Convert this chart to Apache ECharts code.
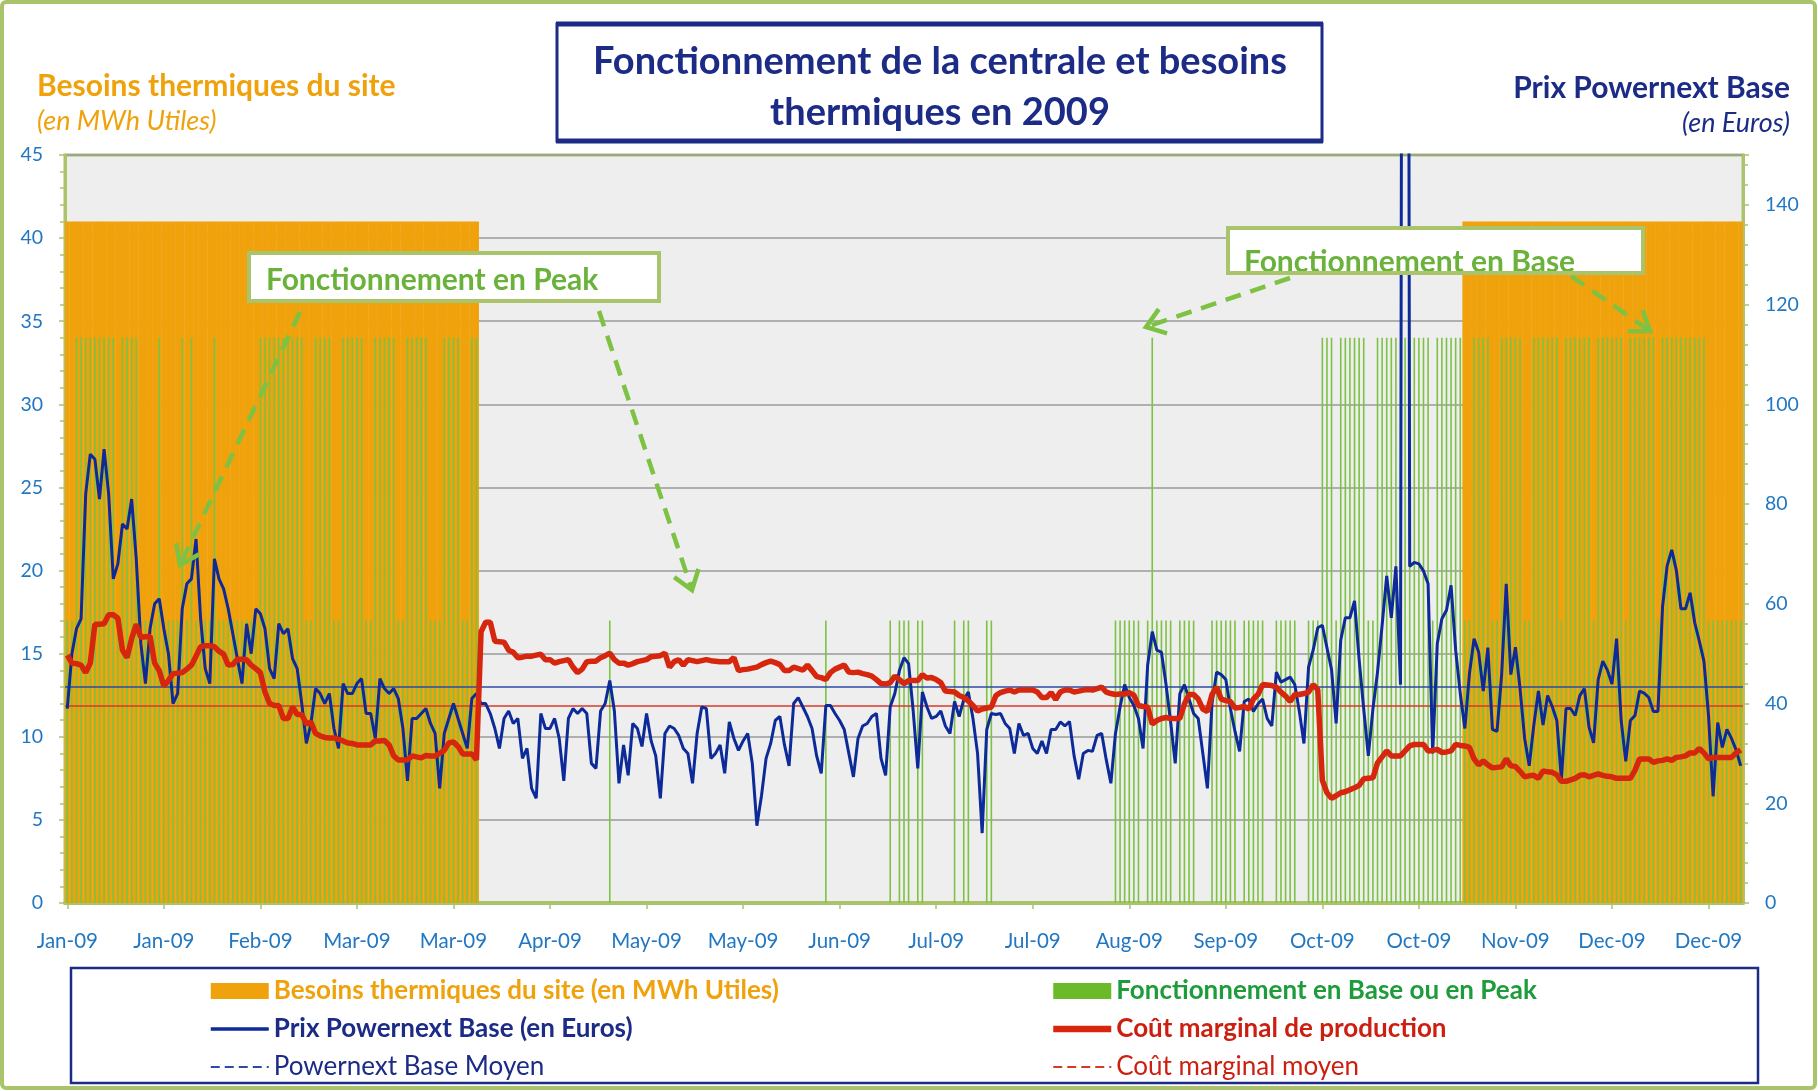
<!DOCTYPE html>
<html>
<head>
<meta charset="UTF-8">
<title>Fonctionnement de la centrale 2009</title>
<script src="https://cdn.jsdelivr.net/npm/echarts@6/dist/echarts.min.js"></script>
<style>
  html, body { margin: 0; padding: 0; background: #fff; }
  #main { width: 1818px; height: 1091px; }
</style>
</head>
<body>
<div id="main"></div>
<script type="text/javascript">
// x-axis tick labels, one every 21 days
var tickLabels = ['Jan-09','Jan-09','Feb-09','Mar-09','Mar-09','Apr-09','May-09','May-09','Jun-09',
  'Jul-09','Jul-09','Aug-09','Sep-09','Oct-09','Oct-09','Nov-09','Dec-09','Dec-09'];

// Besoins thermiques du site (MWh utiles), one value per day
var besoins = [
  41,41,41,41,41,41,41,41,41,41, 41,41,41,41,41,41,41,41,41,41,
  41,41,41,41,41,41,41,41,41,41, 41,41,41,41,41,41,41,41,41,41,
  41,41,41,41,41,41,41,41,41,41, 41,41,41,41,41,41,41,41,41,41,
  41,41,41,41,41,41,41,41,41,41, 41,41,41,41,41,41,41,41,41,41,
  41,41,41,41,41,41,41,41,41,41,
  0,0,0,0,0,0,0,0,0,0, 0,0,0,0,0,0,0,0,0,0, 0,0,0,0,0,0,0,0,0,0,
  0,0,0,0,0,0,0,0,0,0, 0,0,0,0,0,0,0,0,0,0, 0,0,0,0,0,0,0,0,0,0,
  0,0,0,0,0,0,0,0,0,0, 0,0,0,0,0,0,0,0,0,0, 0,0,0,0,0,0,0,0,0,0,
  0,0,0,0,0,0,0,0,0,0, 0,0,0,0,0,0,0,0,0,0, 0,0,0,0,0,0,0,0,0,0,
  0,0,0,0,0,0,0,0,0,0, 0,0,0,0,0,0,0,0,0,0, 0,0,0,0,0,0,0,0,0,0,
  0,0,0,0,0,0,0,0,0,0, 0,0,0,0,0,0,0,0,0,0, 0,0,0,0,0,0,0,0,0,0,
  0,0,0,0,0,0,0,0,0,0, 0,0,0,0,0,0,0,0,0,0, 0,0,0,0,0,0,0,0,0,0,
  0,0,0,0,41,41,41,41,41,41,
  41,41,41,41,41,41,41,41,41,41, 41,41,41,41,41,41,41,41,41,41,
  41,41,41,41,41,41,41,41,41,41, 41,41,41,41,41,41,41,41,41,41,
  41,41,41,41,41,41,41,41,41,41, 41,41,41,41,41
];

// Fonctionnement en Base (17) ou en Peak (34)
var fonctionnement = [
  17,17,34,34,34,34,34,34,34,34, 34,17,34,34,34,34,17,17,17,17,
  34,17,17,17,17,34,17,34,17,17, 17,17,34,17,17,17,17,17,17,17,
  17,17,34,34,34,34,34,34,34,34, 34,34,17,17,34,34,34,34,17,17,
  34,34,34,34,34,17,17,34,34,34, 34,34,17,17,34,34,34,34,34,17,
  17,17,34,34,34,34,17,17,34,34,
  0,0,0,0,0,0,0,0,0,0, 0,0,0,0,0,0,0,0,0,0, 0,0,0,0,0,0,0,0,17,0,
  0,0,0,0,0,0,0,0,0,0, 0,0,0,0,0,0,0,0,0,0, 0,0,0,0,0,0,0,0,0,0,
  0,0,0,0,0,0,0,0,0,0, 0,0,0,0,0,17,0,0,0,0, 0,0,0,0,0,0,0,0,0,17,
  0,17,17,17,0,17,17,0,0,0, 0,0,0,17,0,17,17,0,0,0, 17,17,0,0,0,0,0,0,0,0,
  0,0,0,0,0,0,0,0,0,0, 0,0,0,0,0,0,0,0,17,17, 17,17,17,17,0,17,34,17,17,17,
  17,0,17,17,17,17,0,0,0,17, 17,17,17,17,17,0,17,17,17,17, 17,0,0,17,17,17,17,17,0,0,
  17,17,17,34,34,34,17,34,34,34, 34,34,34,17,17,34,34,34,34,34,
  17,34,34,34,34,34,34,17,34,34, 34,34,34,34,17,17,34,34,34,34,
  17,17,34,34,34,34,34,17,17,34, 34,34,34,34,34,17,34,34,34,34,
  34,34,17,34,34,34,34,34,34,17, 34,34,34,34,34,34,17,34,34,34,
  34,34,34,34,34,34,34,17,17,17, 17,17,17,17,17
];

// Prix Powernext Base (euros)
var prixPowernext = [
  39,50,55,57,82,90,89,81,91,82, 65,68,76,75,81,69,52,44,55,60,
  61,55,50,40,42,59,64,65,73,57, 47,44,69,65,63,59,54,49,44,56,
  50,59,58,55,47,45,56,54,55,49, 47,40,32,36,43,42,40,42,35,31,
  44,42,42,44,45,38,38,33,45,43, 42,43,41,35,24.5,37,37,38,39,36,
  34,23,34,37,40,37,34,31,41,42, 40,40,38,35,31,37,38.5,36,37,29,
  31,23,21,38,35,35,37,33,24.5,37, 39,38,39,38,28,27,38.5,40,44.6,38.5,
  24,31.7,25.6,36,35,31.4,38,32.5,29.5,21, 34,35.5,35,33.6,31,30,24,34,39.3,39,
  29,30,31.7,26,36.3,33,30.6,32.5,34,28, 15.5,21.5,29,32,36.6,37.4,31.7,27.5,40,41.2,
  39.3,37.4,35,29.5,26,39.6,39.6,38,36.6,34.8, 30,25.3,33,35.5,36,37.4,38,29,25.6,39.3,
  42,46.6,49.2,48,38.5,27,42.3,39.3,37,37.4, 38.5,35.5,34,40.4,37.4,40.8,42.3,37,30,14,
  34.8,38,37.8,38,36,35,30,36,33.6,34, 31,30,32.5,30,34.8,34.8,36.3,35.5,36.4,29.5,
  24.8,30,30.6,30.4,33.6,34,28.7,24,34,39.3, 43.8,41.2,39.6,37,31,47.7,54.4,50.7,50.3,43.8,
  36.3,28,42,43.8,40.9,38,37,30,23,40, 46.3,45.8,44.8,39,34.4,30.4,40.4,40.9,38.4,39.9,
  40.9,37,35.5,46.3,44.3,44.8,45.3,43.8,38.4,32, 47.3,50.7,55.2,55.7,51.2,46.8,36,52.7,57.2,57.2,
  60.6,48.8,38.9,29.5,38.9,46.3,55.7,65.6,57.2,67.5, 43.8,600,67.5,68.3,68,66.6,64,30,52,57,
  58.7,63.7,50.7,42,35,46,53,50.3,42.5,51.2, 34.8,34.4,45.8,64,45.8,51.3,43,33,27.5,35.7,
  42.5,35.7,41.6,39.4,36.6,24.8,39,39,37.6,41.6, 43,35.3,32.1,44.8,48.5,46.7,43.9,53,36.6,28.4,
  36.6,37.6,42.5,42.1,41.2,38.4,38.4,59.4,67.6,70.8, 66.7,59,59,62.2,56.2,52.5,48.5,37.6,21.4,36.2,
  31.2,34.8,33,30.7,27.5
];

// Coût marginal de production (euros)
var coutMarginal = [
  49.7,48.1,48,47.7,46.2,48.1,55.9,55.9,56,57.8, 57.8,57.1,50.7,49.2,53,55.9,53.3,53.4,53.5,48.1,
  46.6,43.5,44.6,46,46.1,46.2,46.9,47.7,49.5,51.4, 51.6,51.6,51.4,50.5,49.9,47.7,47.8,48.9,48.9,48.8,
  47.7,47,46.2,42.3,40,39.6,39.6,37,37,39.3, 37.8,37.8,35.9,36.3,34,33.5,33.2,33.1,33.1,32.8,
  32.5,32.1,32,31.7,31.7,31.7,31.7,32.5,32.5,32.6, 31.7,29.5,28.7,28.7,28.7,29.5,29.3,29.1,29.6,29.5,
  29.5,30,30.6,32.1,32.3,31.4,29.9,29.9,29.9,28.7, 54.4,56.3,56.3,52.5,52.4,52.3,50.7,50.3,49.2,49.3,
  49.5,49.5,49.7,49.9,48.8,48.8,48.1,48.4,48.6,48.8, 47.3,46.2,46.9,48.4,48.5,48.5,49.2,49.6,50.1,48.8,
  48.1,48.1,47.7,48,48.4,48.6,48.8,49.4,49.5,49.6, 50.1,47.3,48.4,48.8,47.7,48.8,48.6,48.4,48.6,48.8,
  48.6,48.5,48.4,48.4,48.4,49.2,46.6,46.8,46.9,47.1, 47.3,47.8,48.2,48.5,48.2,47.8,46.6,46.6,47.3,47,
  46.7,47.7,46.6,45.4,45.2,44.8,46.2,46.9,47.3,47.7, 46.3,46.2,46.3,46,45.8,45.5,44.8,44,43.9,44.2,
  45.5,44.8,44,44.6,44.6,44.6,45.8,45.1,45.2,44.8, 44.2,42.5,42.4,42.3,41.6,41.2,40.5,39.6,38.5,38.9,
  39.1,39.3,41.6,42.2,42.5,42.7,42.3,42.7,42.7,42.7, 42.7,42.3,41.2,41.2,42.2,40.8,42.3,42.7,42.7,42.3,
  42.5,42.7,42.8,42.7,43,43.3,42.3,42,41.8,41.9, 41.9,42.2,41.7,39.6,39.4,39.3,35.9,36.6,37,37.2,
  37,37,37,39.9,41.8,41.8,40.9,38.9,38.4,41.8, 43.3,40.9,40.6,40.4,39.1,39.2,39.4,38.9,40.9,41.8,
  43.8,43.7,43.6,43.3,42.3,41.5,40.4,41.8,41.8,42, 42.3,43.8,42.8,24.6,22.1,21,21.5,22.1,22.3,22.7,
  23.1,23.6,24.9,25,25.1,28.1,29.3,30.5,29.5,29.5, 29.5,30.5,31.5,31.8,31.8,31.8,30.5,30.6,30.8,30.2,
  30.3,30.5,31.8,31.6,31.5,31.2,28.9,27.7,28.5,27.7, 27.1,27.2,27.3,28.9,27.5,27.4,26.4,25.3,25.5,25.6,
  25,26.5,26.3,26.2,25.7,24.4,24.4,24.7,25,25.6, 25.7,25.3,25.6,25.9,25.6,25.4,25.3,25,25,25,
  25,26.6,28.9,28.9,28.9,28.2,28.5,28.6,28.9,28.6, 29.2,29.3,29.5,30.1,30.1,31,30.1,28.9,29.2,29.2,
  29.2,29.2,29.2,30.1,30.7
];

var prixMoyen = 43.3;
var coutMoyen = 39.5;

// one category per day of 2009
var jours = [];
for (var i = 0; i < 365; i++) {
  jours.push(new Date(Date.UTC(2009, 0, 1 + i)).toISOString().slice(0, 10));
}

var orange = '#f0a20c', vert = '#7dc243', vertClair = '#a9c46b', marine = '#1b2b86',
    bleu = '#0c2a98', rouge = '#d6260e', labelBleu = '#2277c2', vertTexte = '#6ab23b';

function fleche(x1, y1, x2, y2) {
  var a = Math.atan2(y2 - y1, x2 - x1), L = 22, s = 0.62;
  return [
    { type: 'line', z: 100, shape: { x1: x1, y1: y1, x2: x2, y2: y2 },
      style: { stroke: vert, lineWidth: 4.5, lineDash: [16, 10] } },
    { type: 'polyline', z: 100,
      shape: { points: [[x2 - L * Math.cos(a - s), y2 - L * Math.sin(a - s)], [x2, y2],
                        [x2 - L * Math.cos(a + s), y2 - L * Math.sin(a + s)]] },
      style: { stroke: vert, lineWidth: 4.5, fill: null } }
  ];
}

var elements = [
  { type: 'rect', z: 100, shape: { x: 2, y: 2, width: 1813, height: 1086, r: 4 },
    style: { fill: null, stroke: vertClair, lineWidth: 4 } },
  // title box
  { type: 'rect', z: 100, shape: { x: 557, y: 24, width: 765, height: 117 },
    style: { fill: '#fff', stroke: marine, lineWidth: 3 } },
  { type: 'line', z: 100, shape: { x1: 556, y1: 24, x2: 1323, y2: 24 }, style: { stroke: marine, lineWidth: 5 } },
  { type: 'line', z: 100, shape: { x1: 556, y1: 141, x2: 1323, y2: 141 }, style: { stroke: marine, lineWidth: 5 } },
  { type: 'text', z: 101, x: 940, y: 87,
    style: { text: 'Fonctionnement de la centrale et besoins\nthermiques en 2009', font: 'bold 38px Lato',
             fill: marine, align: 'center', verticalAlign: 'middle', lineHeight: 51 } },
  // axis titles
  { type: 'text', z: 100, x: 37, y: 86,
    style: { text: 'Besoins thermiques du site', font: 'bold 30px Lato', fill: orange, verticalAlign: 'middle' } },
  { type: 'text', z: 100, x: 37, y: 121,
    style: { text: '(en MWh Utiles)', font: 'italic 27px Lato', fill: orange, verticalAlign: 'middle' } },
  { type: 'text', z: 100, x: 1790, y: 88,
    style: { text: 'Prix Powernext Base', font: 'bold 30px Lato', fill: marine, align: 'right', verticalAlign: 'middle' } },
  { type: 'text', z: 100, x: 1790, y: 123,
    style: { text: '(en Euros)', font: 'italic 27px Lato', fill: marine, align: 'right', verticalAlign: 'middle' } },
  // annotation boxes
  { type: 'rect', z: 100, shape: { x: 249, y: 253, width: 410, height: 48 },
    style: { fill: '#fff', stroke: vertClair, lineWidth: 4 } },
  { type: 'text', z: 101, x: 266, y: 280,
    style: { text: 'Fonctionnement en Peak', font: 'bold 30px Lato', fill: vertTexte, verticalAlign: 'middle' } },
  { type: 'rect', z: 100, shape: { x: 1228, y: 228, width: 415, height: 45 },
    style: { fill: '#fff', stroke: null } },
  { type: 'text', z: 101, x: 1244, y: 262,
    style: { text: 'Fonctionnement en Base', font: 'bold 30px Lato', fill: vertTexte, verticalAlign: 'middle' } },
  { type: 'rect', z: 102, shape: { x: 1228, y: 228, width: 415, height: 45 },
    style: { fill: null, stroke: vertClair, lineWidth: 4 } },
  // legend frame
  { type: 'rect', z: 100, shape: { x: 71, y: 968, width: 1687, height: 115 },
    style: { fill: null, stroke: marine, lineWidth: 2.5 } }
].concat(fleche(300, 312, 180, 565), fleche(599, 311, 692, 590),
         fleche(1290, 278, 1146, 327), fleche(1571, 276, 1650, 331));

var sBesoins = 'Besoins thermiques du site (en MWh Utiles)',
    sFonct = 'Fonctionnement en Base ou en Peak',
    sPrix = 'Prix Powernext Base (en Euros)',
    sCout = 'Coût marginal de production',
    sPrixMoy = 'Powernext Base Moyen',
    sCoutMoy = 'Coût marginal moyen';

var sansSymbole = { opacity: 0 };

var myChart = echarts.init(document.getElementById('main'));
myChart.setOption({
  animation: false,
  backgroundColor: '#fff',
  textStyle: { fontFamily: 'Lato' },
  grid: {
    left: 65, right: 75, top: 155, bottom: 188,
    show: true, backgroundColor: '#eeeeee', borderColor: vertClair, borderWidth: 3,
    outerBoundsMode: 'none'
  },
  legend: [{
    orient: 'vertical', left: 204, top: 973, itemWidth: 58, itemHeight: 16, itemGap: 12,
    selectedMode: false, textStyle: { fontSize: 26, fontFamily: 'Lato' },
    data: [
      { name: sBesoins, icon: 'rect', textStyle: { color: orange, fontWeight: 'bold' } },
      { name: sPrix, itemStyle: sansSymbole, lineStyle: { width: 3.5 }, textStyle: { color: marine, fontWeight: 'bold' } },
      { name: sPrixMoy, itemStyle: sansSymbole, lineStyle: { width: 2 }, textStyle: { color: marine } }
    ]
  }, {
    orient: 'vertical', left: 1045, top: 973, itemWidth: 58, itemHeight: 16, itemGap: 12,
    selectedMode: false, textStyle: { fontSize: 26, fontFamily: 'Lato' },
    data: [
      { name: sFonct, icon: 'rect', itemStyle: { color: '#6aba2a' }, textStyle: { color: '#1e9b3a', fontWeight: 'bold' } },
      { name: sCout, itemStyle: sansSymbole, lineStyle: { width: 6.5 }, textStyle: { color: '#cc1f10', fontWeight: 'bold' } },
      { name: sCoutMoy, itemStyle: sansSymbole, lineStyle: { width: 2 }, textStyle: { color: '#cc1f10' } }
    ]
  }],
  xAxis: [{
    type: 'category', data: jours, boundaryGap: true,
    axisLine: { lineStyle: { color: vertClair, width: 4 } },
    axisTick: { show: true, interval: 20, alignWithLabel: true, length: 6, lineStyle: { color: vertClair, width: 1.5 } },
    axisLabel: {
      interval: 20, margin: 28, color: labelBleu, fontSize: 20.5,
      formatter: function (v, idx) { return tickLabels[Math.round(idx / 21)] || ''; }
    },
    splitLine: { show: false }
  }, {
    type: 'category', data: jours, boundaryGap: true, show: false
  }],
  yAxis: [{
    type: 'value', min: 0, max: 45, interval: 5, position: 'left',
    axisLine: { show: true, lineStyle: { color: vertClair, width: 3 } },
    axisTick: { show: true, length: 6, lineStyle: { color: vertClair, width: 1.5 } },
    minorTick: { show: true, splitNumber: 5, length: 5, lineStyle: { color: vertClair, width: 1.5 } },
    axisLabel: { color: labelBleu, fontSize: 19.5, margin: 22 },
    splitLine: { show: true, lineStyle: { color: '#9a9a9a', width: 1.5 } }
  }, {
    type: 'value', min: 0, max: 150, interval: 20, position: 'right',
    axisLine: { show: true, lineStyle: { color: vertClair, width: 3 } },
    axisTick: { show: true, length: 6, lineStyle: { color: vertClair, width: 1.5 } },
    minorTick: { show: true, splitNumber: 5, length: 5, lineStyle: { color: vertClair, width: 1.5 } },
    axisLabel: { color: labelBleu, fontSize: 19.5, margin: 22, showMaxLabel: false },
    splitLine: { show: false }
  }],
  graphic: { elements: elements },
  series: [{
    name: sBesoins, type: 'bar', xAxisIndex: 0, yAxisIndex: 0,
    data: besoins, barWidth: 5, itemStyle: { color: orange }, z: 2
  }, {
    name: sFonct, type: 'bar', xAxisIndex: 1, yAxisIndex: 0,
    data: fonctionnement, barWidth: 1.6, itemStyle: { color: vert }, z: 3
  }, {
    name: sPrixMoy, type: 'line', yAxisIndex: 1, data: [], symbol: 'none',
    lineStyle: { color: '#2e4aa6', width: 2, type: [9, 5] }, itemStyle: { color: '#2e4aa6' },
    markLine: { silent: true, symbol: 'none', label: { show: false },
      lineStyle: { color: '#2e4aa6', width: 1.6, type: 'solid' }, data: [{ yAxis: prixMoyen }] }, z: 4
  }, {
    name: sCoutMoy, type: 'line', yAxisIndex: 1, data: [], symbol: 'none',
    lineStyle: { color: '#d83a2a', width: 2, type: [9, 5] }, itemStyle: { color: '#d83a2a' },
    markLine: { silent: true, symbol: 'none', label: { show: false },
      lineStyle: { color: '#d83a2a', width: 1.6, type: 'solid' }, data: [{ yAxis: coutMoyen }] }, z: 4
  }, {
    name: sPrix, type: 'line', yAxisIndex: 1, data: prixPowernext, symbol: 'none', clip: true,
    lineStyle: { color: bleu, width: 3 }, itemStyle: { color: bleu }, z: 5
  }, {
    name: sCout, type: 'line', yAxisIndex: 1, data: coutMarginal, symbol: 'none', clip: true,
    lineStyle: { color: rouge, width: 5.5 }, itemStyle: { color: rouge }, z: 6
  }]
});
</script>
</body>
</html>
